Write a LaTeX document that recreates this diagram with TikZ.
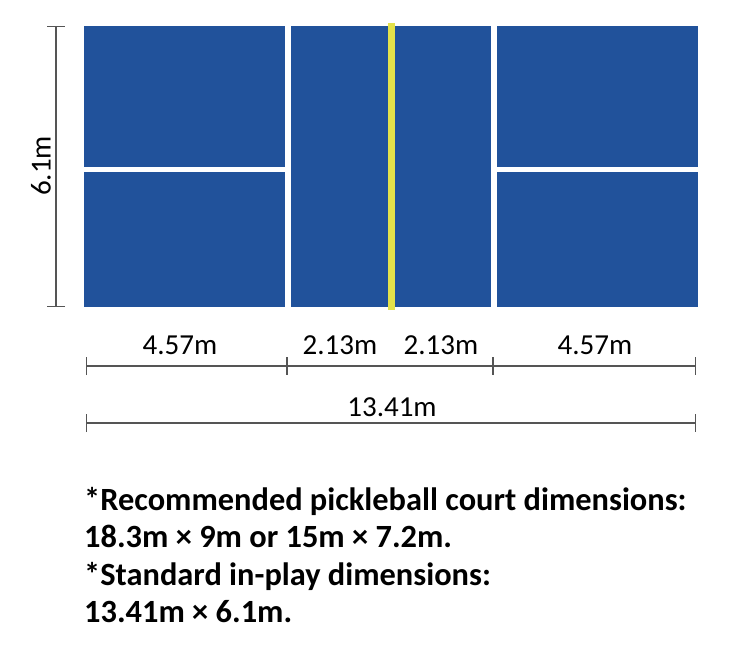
\documentclass[tikz,border=0pt]{standalone}
\usepackage{fontspec}
\setmainfont{Carlito}
\usetikzlibrary{positioning}
\usetikzlibrary{arrows.meta}
\definecolor{courtblue}{HTML}{21529B}
\definecolor{netyellow}{HTML}{E4E24A}
\definecolor{dimgray}{HTML}{555555}

\begin{document}
\begin{tikzpicture}[
	x=1pt, y=-1pt,
  dimline/.style={dimgray,line width=1.3pt,{Bar[width=18pt,line width=1.3pt]}-{Bar[width=18pt,line width=1.3pt]}},
  dimlabel/.style={font=\fontsize{29}{32}\selectfont,inner sep=0pt},
	note/.style={font=\fontsize{32.4}{37.5}\selectfont\bfseries,align=left,inner sep=0pt}]
  \useasboundingbox (0,0) rectangle (730,667);
  % court
  \fill[courtblue] (84,26) rectangle (698,307);
  \fill[white] (285,26) rectangle (291,307);
  \fill[white] (491,26) rectangle (497,307);
  \fill[white] (84,167) rectangle (285,172);
  \fill[white] (497,167) rectangle (698,172);
  \fill[netyellow] (388,23) rectangle (395,310);
  % height
  \coordinate (h1) at (56,26);
  \coordinate (h2) at (56,307);
  \draw[dimline] (h1) -- (h2);
  \node[dimlabel,rotate=90] (hlab) at (41,166) {6.1m};
  % widths
  \coordinate (w0) at (86,366);
  \coordinate (w1) at (287,366);
  \coordinate (w2) at (493,366);
  \coordinate (w3) at (696,366);
  \draw[dimline] (w0) -- (w1);
  \draw[dimline] (w1) -- (w2);
  \draw[dimline] (w2) -- (w3);
  \node[dimlabel] (lab1) at (180,345) {4.57m};
  \node[dimlabel] (lab2) at (340,345) {2.13m};
  \node[dimlabel] (lab3) at (441,345) {2.13m};
  \node[dimlabel] (lab4) at (595,345) {4.57m};
  \coordinate (t0) at (86,423);
  \coordinate (t1) at (696,423);
  \draw[dimline] (t0) -- (t1);
  \node[dimlabel] (total) at (392,407) {13.41m};
  % notes
  \node[note,anchor=north west] (notes) at (84,487) {*Recommended pickleball court dimensions:\\
    18.3m × 9m or 15m × 7.2m.\\
    *Standard in-play dimensions:\\
    13.41m × 6.1m.};
\end{tikzpicture}
\end{document}
